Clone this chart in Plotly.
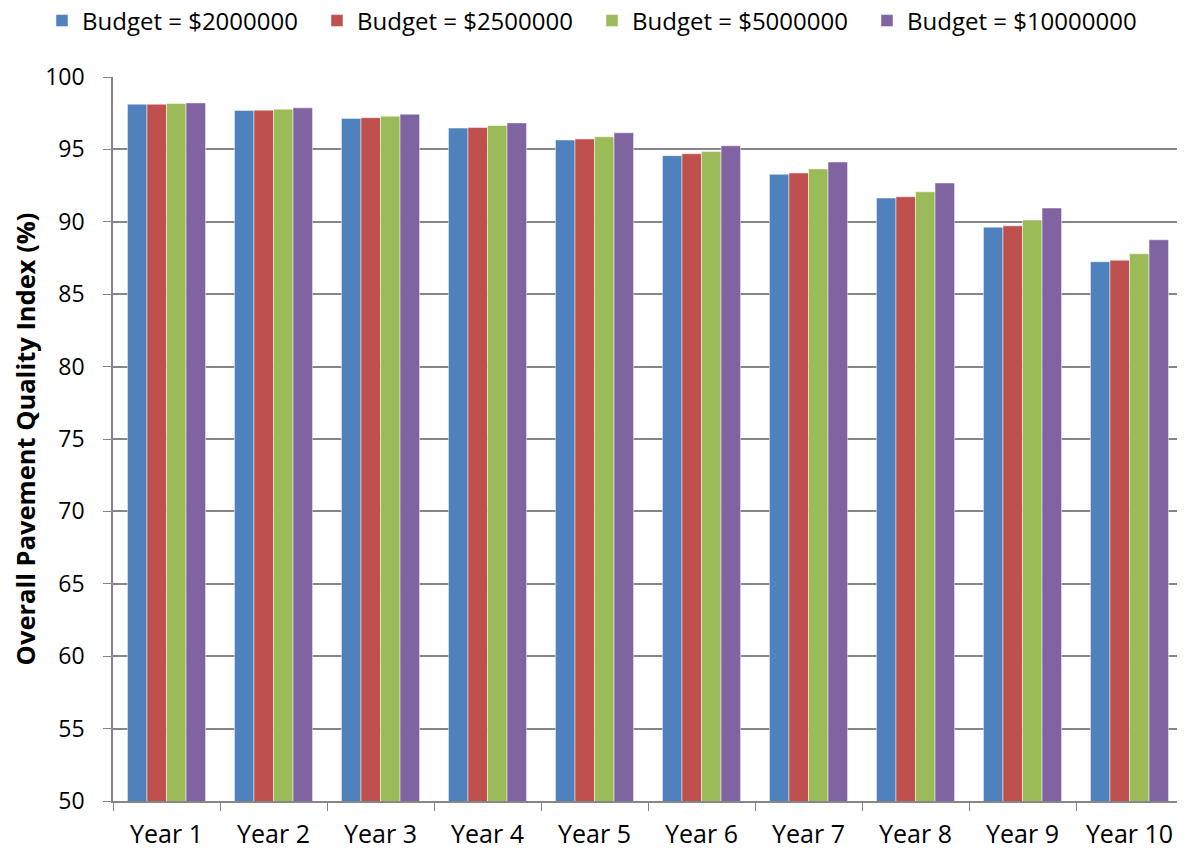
import plotly.graph_objects as go

years = ["Year 1", "Year 2", "Year 3", "Year 4", "Year 5", "Year 6", "Year 7", "Year 8", "Year 9", "Year 10"]
series_names = ["Budget = $2000000", "Budget = $2500000", "Budget = $5000000", "Budget = $10000000"]
budget_2000000 = [98.12, 97.69, 97.14, 96.47, 95.65, 94.57, 93.28, 91.64, 89.63, 87.24]
budget_2500000 = [98.12, 97.71, 97.19, 96.51, 95.72, 94.70, 93.37, 91.73, 89.72, 87.35]
budget_5000000 = [98.17, 97.78, 97.29, 96.65, 95.87, 94.86, 93.65, 92.07, 90.12, 87.79]
budget_10000000 = [98.21, 97.87, 97.43, 96.83, 96.15, 95.25, 94.13, 92.68, 90.95, 88.76]
colors = ["#4F81BD", "#C0504D", "#9BBB59", "#8064A2"]

fig = go.Figure()
for name, vals, col in zip(series_names,
                           [budget_2000000, budget_2500000, budget_5000000, budget_10000000],
                           colors):
    fig.add_trace(go.Bar(x=years, y=vals, name=name,
                         marker=dict(color=col, line=dict(color="rgba(255,255,255,0.6)", width=0.8))))

font_family = "Open Sans, Noto Sans, sans-serif"
# note: the page body adds an 8px offset, margins compensate for it
ml, mr, mt, mb = 105, 10, 69, 59
plot_w = 1185 - ml - mr
plot_h = 852 - mt - mb
fig.update_layout(
    width=1185, height=852,
    margin=dict(l=ml, r=mr, t=mt, b=mb, autoexpand=False),
    paper_bgcolor="white", plot_bgcolor="white",
    barmode="group", bargap=0.27, bargroupgap=0,
    font=dict(family=font_family, size=23, color="black"),
    legend=dict(orientation="h", x=(34 - ml) / plot_w, xanchor="left",
                y=1 + (mt - 13) / plot_h, yanchor="middle",
                font=dict(size=24), traceorder="normal", itemwidth=30,
                entrywidth=230, entrywidthmode="pixels"),
    showlegend=True,
)
fig.update_xaxes(showline=True, linecolor="#868686", linewidth=1.5,
                 ticks="outside", tickcolor="#868686", ticklen=8, tickson="boundaries",
                 showgrid=False, tickfont=dict(size=25), automargin=False,
                 ticklabelstandoff=10)
fig.update_yaxes(range=[50, 100], dtick=5, showgrid=True, gridcolor="#868686", gridwidth=1.5,
                 showline=True, linecolor="#868686", linewidth=1.5,
                 ticks="outside", tickcolor="#868686", ticklen=8,
                 tickfont=dict(size=23), automargin=False, ticklabelstandoff=14,
                 title=dict(text="<b>Overall Pavement Quality Index (%)</b>", font=dict(size=25.5), standoff=12))
fig.write_html("out.html")
